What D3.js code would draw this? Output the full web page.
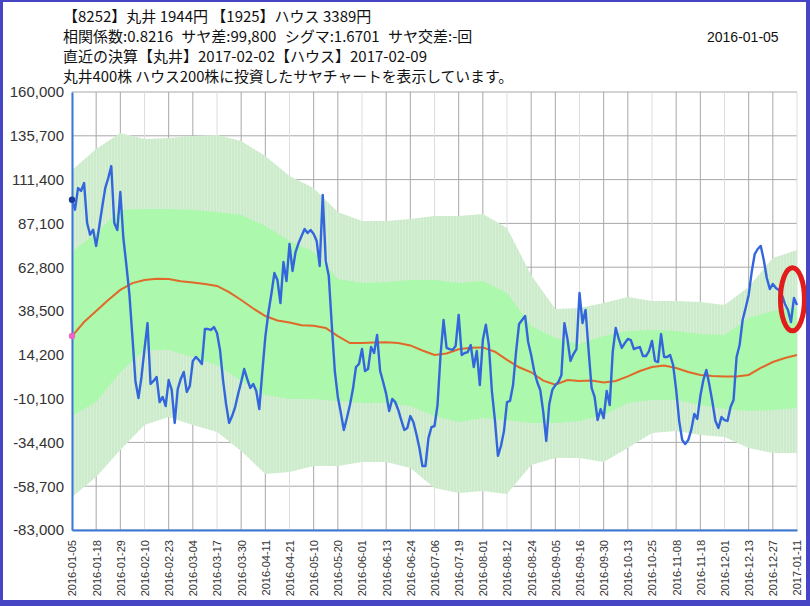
<!DOCTYPE html>
<html>
<head>
<meta charset="utf-8">
<script src="https://cdn.jsdelivr.net/npm/d3@7"></script>
<style>
body{margin:0;background:#fff;}
svg{display:block;}
</style>
</head>
<body>
<div class="chart"></div>
<script>
'use strict';
// header texts
var headerLines = [
  "【8252】丸井 1944円 【1925】ハウス 3389円",
  "相関係数:0.8216 サヤ差:99,800 シグマ:1.6701 サヤ交差:-回",
  "直近の決算【丸井】2017-02-02【ハウス】2017-02-09",
  "丸井400株 ハウス200株に投資したサヤチャートを表示しています。"
];
var headerDate = "2016-01-05";

// x tick labels (every 8 trading days)
var dateLabels = ["2016-01-05","2016-01-18","2016-01-29","2016-02-10","2016-02-23","2016-03-04",
  "2016-03-17","2016-03-30","2016-04-11","2016-04-21","2016-05-10","2016-05-20","2016-06-01",
  "2016-06-13","2016-06-24","2016-07-06","2016-07-19","2016-08-01","2016-08-12","2016-08-24",
  "2016-09-05","2016-09-16","2016-09-30","2016-10-13","2016-10-25","2016-11-08","2016-11-18",
  "2016-12-01","2016-12-13","2016-12-27","2017-01-11"];
var labelStep = 8;

var yTicks = [160000,135700,111400,87100,62800,38500,14200,-10100,-34400,-58700,-83000];

// daily spread (yen)
var spread = [100200,94700,106700,105100,109500,87300,80800,83600,74600,85100,
  96200,106700,112300,118900,87300,83400,104500,79000,64000,47900,
  24100,-300,-9800,1900,17400,31800,-2000,-300,1900,-12000,
  -9200,-14200,200,-5300,-23600,-4800,800,4700,-6400,-3100,
  10800,13000,11300,9100,28500,28500,28000,29600,26300,16900,
  200,-13100,-23600,-19800,-14800,-7500,-900,6300,800,-4200,
  -2000,-5900,-15900,4700,24100,37400,47900,59600,55700,42900,
  65700,55100,75700,60700,71200,76200,80100,84000,81800,83400,
  81200,77300,63500,102900,66300,57900,30700,5200,-9200,-18100,
  -27500,-20900,-13700,-4800,7400,9100,17400,5200,6300,18500,
  15200,25200,5200,-900,-7500,-17000,-10300,-12000,-16400,-22000,
  -27500,-26400,-19800,-23100,-29700,-37500,-47500,-47500,-32000,-25900,
  -25300,-13700,14100,33500,18000,17400,16900,19100,36300,14100,
  15200,15700,19600,7400,16300,-2600,22400,30900,19600,-5900,
  -22000,-41900,-36400,-28100,-12000,-11400,-2600,15800,31300,33500,
  35700,21300,14100,5200,-900,-5300,-17500,-33600,-13100,-5300,
  -2600,-900,2800,31800,23000,10800,14600,17400,48500,31800,
  39100,16900,-4200,-9200,-22000,-15900,-20900,-5900,-13700,15800,
  29100,23000,18000,20700,23000,22400,17400,18000,18500,13500,
  13500,16300,21900,10800,10200,25700,13000,13000,14100,8500,
  -5300,-22500,-33100,-35300,-33100,-27500,-18600,-21400,-8700,200,
  5800,-2600,-12000,-22500,-26400,-20300,-22000,-22500,-14800,-10900,
  13000,19600,33500,40200,47400,60100,70100,72900,74600,66800,
  56800,50700,53500,51300,50200,47400,42400,39100,32400,45700,
  41800];

// moving average, every 4 trading days
var meanStep = 4;
var meanLine = [24600,32400,38500,44600,50200,54000,55700,56400,56300,55000,
  54300,53500,52400,49000,44600,39900,35700,33200,32100,30600,
  30300,29100,24600,20700,20700,21000,21100,20700,19400,16600,
  14100,14900,17300,18100,18300,15900,11400,7300,4500,-100,
  -2400,200,-300,-100,-1200,-300,2200,5200,7400,8300,
  6900,4700,3000,2400,2200,2200,3000,6900,10200,12400,
  14100];

// sigma bands, every 8 trading days
var bandStep = 8;
var upper2 = [116700,128400,137300,133900,134500,135600,136100,132800,124500,113400,
  106700,93400,88400,88400,89500,91200,91200,92300,84500,58500,
  39600,40200,42900,46300,44000,44000,43500,41800,51800,67900,72300];
var upper1 = [71200,81800,94500,95100,95100,94500,93400,91800,85700,77300,
  71200,56300,54000,54600,55700,55700,54000,55100,48500,30200,
  23500,20200,24600,27400,28000,27400,25700,25200,34600,38500,40700];
var lower1 = [-19800,-12000,4700,16900,16900,13000,8500,-300,-8100,-10300,
  -10300,-11400,-12500,-12500,-14200,-19800,-23100,-20900,-22000,-23600,
  -23600,-22500,-19200,-12500,-10900,-10900,-13700,-15900,-17000,-16400,-15300];
var lower2 = [-64700,-53600,-38600,-24700,-20300,-24700,-28600,-39200,-51900,-50800,
  -47500,-47500,-45300,-45300,-48600,-59700,-62500,-61400,-63000,-46900,
  -43100,-43100,-45300,-37500,-29200,-28100,-30300,-31400,-37500,-40300,-40300];

// highlighted point (day index, yen)
var mark = {day: 238.5, value: 45000};

var W = 810, H = 606;
var margin = {top: 92, right: 13, bottom: 76, left: 72};

var svg = d3.select(".chart")
  .append("svg")
    .attr("width", W)
    .attr("height", H);

var x = d3.scaleLinear()
  .domain([0, spread.length - 1])
  .range([margin.left, W - margin.right]);

var y = d3.scaleLinear()
  .domain([-83000, 160000])
  .range([H - margin.bottom, margin.top]);

var fmt = d3.formatLocale({decimal: ".", thousands: ",", grouping: [3], currency: ["", ""], minus: "-"}).format(",");

// stripes for the outer band
var defs = svg.append("defs");
var pat = defs.append("pattern")
  .attr("id", "stripes")
  .attr("patternUnits", "userSpaceOnUse")
  .attr("width", 3).attr("height", 10);
pat.append("rect").attr("width", 3).attr("height", 10).attr("fill", "#cbebcb");
pat.append("rect").attr("width", 1).attr("height", 10).attr("fill", "#d7f0d7");

// grid
var tickIdx = dateLabels.map((d, i) => i * labelStep);
svg.append("g")
  .selectAll("line.h")
  .data(yTicks)
  .enter().append("line")
    .attr("x1", margin.left).attr("x2", W - margin.right)
    .attr("y1", d => y(d)).attr("y2", d => y(d))
    .attr("stroke", "#a8a8a8").attr("stroke-width", 1);
svg.append("g")
  .selectAll("line.v")
  .data(tickIdx)
  .enter().append("line")
    .attr("x1", d => x(d)).attr("x2", d => x(d))
    .attr("y1", margin.top).attr("y2", H - margin.bottom)
    .attr("stroke", (d, i) => i % 3 == 0 ? "#dddddd" : "#a8a8a8").attr("stroke-width", 1);

// bands
var outer = d3.area()
  .x((d, i) => x(i * bandStep))
  .y0((d, i) => y(lower2[i]))
  .y1(d => y(d));
svg.append("path")
  .datum(upper2)
  .attr("d", outer)
  .attr("fill", "url(#stripes)");

var inner = d3.area()
  .x((d, i) => x(i * bandStep))
  .y0((d, i) => y(lower1[i]))
  .y1(d => y(d));
svg.append("path")
  .datum(upper1)
  .attr("d", inner)
  .attr("fill", "#acf8ac");

// mean line
svg.append("path")
  .datum(meanLine)
  .attr("d", d3.line().x((d, i) => x(i * meanStep)).y(d => y(d)))
  .attr("fill", "none")
  .attr("stroke", "#e0692a")
  .attr("stroke-width", 2);

// spread line
svg.append("path")
  .datum(spread)
  .attr("d", d3.line().x((d, i) => x(i)).y(d => y(d)))
  .attr("fill", "none")
  .attr("stroke", "#3366dd")
  .attr("stroke-width", 2.4)
  .attr("stroke-linejoin", "round");

// axes
var yAxis = d3.axisLeft(y).tickValues(yTicks).tickFormat(fmt).tickSize(0).tickPadding(8);
var gy = svg.append("g")
  .attr("transform", "translate(" + margin.left + ",0)")
  .call(yAxis);
gy.select(".domain").attr("stroke", "#3a78d8").attr("stroke-width", 2);
gy.selectAll("text")
  .attr("font-family", "Liberation Sans, Arial, sans-serif")
  .attr("font-size", 15)
  .attr("fill", "#333");

var xAxis = d3.axisBottom(x).tickValues(tickIdx).tickFormat((d, i) => dateLabels[i]).tickSize(0);
var gx = svg.append("g")
  .attr("transform", "translate(0," + (H - margin.bottom) + ")")
  .call(xAxis);
gx.select(".domain").attr("stroke", "#3a78d8").attr("stroke-width", 2);
gx.selectAll("text")
  .attr("font-family", "Liberation Sans, Arial, sans-serif")
  .attr("font-size", 11)
  .attr("fill", "#333")
  .attr("text-anchor", "end")
  .attr("dy", "0.35em")
  .attr("transform", "translate(0,10) rotate(-90)")
  .attr("x", -0).attr("y", 0);

// start markers
svg.append("circle")
  .attr("cx", x(0)).attr("cy", y(spread[0])).attr("r", 3.2)
  .attr("fill", "#1c3c9c");
svg.append("circle")
  .attr("cx", x(0)).attr("cy", y(meanLine[0])).attr("r", 3.2)
  .attr("fill", "#f064c8");

// highlight ellipse
svg.append("ellipse")
  .attr("cx", x(mark.day)).attr("cy", y(mark.value))
  .attr("rx", 12).attr("ry", 31.5)
  .attr("fill", "none")
  .attr("stroke", "#e01c1c")
  .attr("stroke-width", 5);

// header
svg.append("g")
  .selectAll("text")
  .data(headerLines)
  .enter().append("text")
    .attr("x", 63)
    .attr("y", (d, i) => 21.5 + i * 20)
    .attr("font-family", "Noto Sans CJK JP, sans-serif")
    .attr("font-size", (d, i) => i == 3 ? 14.8 : 15)
    .attr("word-spacing", (d, i) => i == 1 ? 5 : 0)
    .attr("fill", "#111")
    .text(d => d);
svg.append("text")
  .attr("x", 707).attr("y", 42)
  .attr("font-family", "Liberation Sans, Arial, sans-serif")
  .attr("font-size", 14)
  .attr("fill", "#111")
  .text(headerDate);

// frame
var frame = "#4646c4";
svg.append("rect").attr("x", 0).attr("y", 0).attr("width", 3).attr("height", H).attr("fill", frame);
svg.append("rect").attr("x", 0).attr("y", 0).attr("width", W).attr("height", 2).attr("fill", frame);
svg.append("rect").attr("x", 806).attr("y", 0).attr("width", 4).attr("height", H).attr("fill", frame);
svg.append("rect").attr("x", 0).attr("y", 600).attr("width", W).attr("height", 6).attr("fill", frame);
</script>
</body>
</html>
